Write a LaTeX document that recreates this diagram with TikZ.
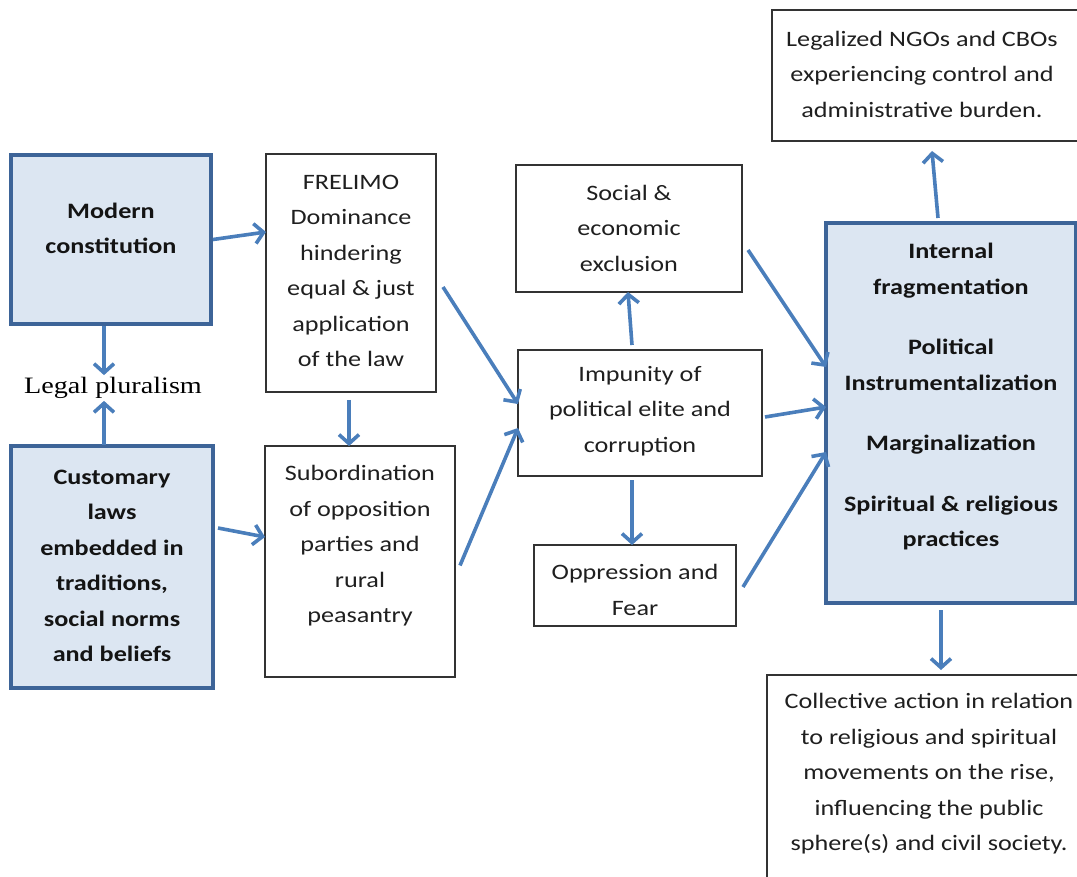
\documentclass[tikz,border=0pt]{standalone}
\usepackage{fontspec}
\setmainfont{Carlito}[FakeStretch=1.19]
\newfontfamily\lpfont{Liberation Serif}[FakeStretch=1.2]
\usetikzlibrary{arrows.meta}
\definecolor{arrowblue}{HTML}{4A7EBB}
\definecolor{boxblue}{HTML}{DCE6F2}
\definecolor{boxedge}{HTML}{3D6498}
\begin{document}
\begin{tikzpicture}[x=1pt,y=-1pt,
  plainbox/.style={draw=black!80, line width=1.5pt, rectangle, anchor=north west,
    inner sep=0pt, outer sep=0pt},
  bluebox/.style={draw=boxedge, fill=boxblue, line width=3.5pt, rectangle, anchor=north west,
    inner sep=0pt, outer sep=0pt},
  txt/.style={align=center, font=\fontsize{22}{35.5}\selectfont, text=black!88, inner sep=0pt},
  btxt/.style={align=center, font=\fontsize{22}{35.5}\selectfont\bfseries, text=black!92, inner sep=0pt},
  flow/.style={draw=arrowblue, line width=3.6pt, -{Straight Barb[length=9pt,width=20pt]}},
]
\useasboundingbox (0,0) rectangle (1077,877);
\clip (0,0) rectangle (1077,877);

% boxes
\node[bluebox, minimum width=200pt, minimum height=169pt] (mc) at (11,155) {};
\node[bluebox, minimum width=202pt, minimum height=242pt] (cl) at (11,446) {};
\node[plainbox, minimum width=170pt, minimum height=238pt] (fr) at (266,154) {};
\node[plainbox, minimum width=190pt, minimum height=231pt] (sub) at (265,446) {};
\node[plainbox, minimum width=226pt, minimum height=127pt] (soc) at (516,165) {};
\node[plainbox, minimum width=244pt, minimum height=126pt] (imp) at (518,350) {};
\node[plainbox, minimum width=202pt, minimum height=81pt] (opp) at (534,545) {};
\node[bluebox, minimum width=250pt, minimum height=380pt] (rb) at (826,223) {};
\node[plainbox, minimum width=310pt, minimum height=131pt] (ngo) at (772,10) {};
\node[plainbox, minimum width=320pt, minimum height=220pt] (col) at (767,675) {};

% texts
\node[btxt] (mct) at (111,228.5) {Modern\\constitution};
\node[btxt] (clt) at (112,566) {Customary\\laws\\embedded in\\traditions,\\social norms\\and beliefs};
\node[txt] (frt) at (351,271) {FRELIMO\\Dominance\\hindering\\equal \& just\\application\\of the law};
\node[txt] (subt) at (360,546) {Subordination\\of opposition\\parties and\\rural\\peasantry};
\node[txt] (soct) at (629,228) {Social \&\\economic\\exclusion};
\node[txt] (impt) at (640,411) {Impunity of\\political elite and\\corruption};
\node[txt] (oppt) at (635,590) {Oppression and\\Fear};
\node[btxt] (rbt) at (951,397) {Internal\\fragmentation\\[25pt]Political\\Instrumentalization\\[25pt]Marginalization\\[25pt]Spiritual \& religious\\practices};
\node[txt] (ngot) at (922,74) {Legalized NGOs and CBOs\\experiencing control and\\administrative burden.};
\node[txt] (colt) at (929,774) {Collective action in relation\\to religious and spiritual\\movements on the rise,\\influencing the public\\sphere(s) and civil society.};
\node[font=\lpfont\fontsize{23.5}{28}\selectfont, inner sep=2pt] (lp) at (113,388) {Legal pluralism};

% connectors
\draw[flow] ([xshift=2pt]mc.east) -- ([yshift=41pt]fr.west);
\draw[flow] ([shift={(-7pt,-2pt)}]mc.south) -- ([xshift=-9pt]lp.north);
\draw[flow] ([shift={(-8pt,1pt)}]cl.north) -- ([xshift=-9pt]lp.south);
\draw[flow] ([shift={(5pt,39pt)}]cl.east) -- ([yshift=24.5pt]sub.west);
\draw[flow] ([shift={(-2pt,-8pt)}]fr.south) -- ([xshift=-11pt]sub.north);
\draw[flow] ([shift={(7pt,-14pt)}]fr.east) -- ([yshift=9pt]imp.west);
\draw[flow] ([shift={(5pt,-4pt)}]sub.east) -- ([yshift=-15pt]imp.west);
\draw[flow] ([shift={(-8pt,5pt)}]imp.north) -- ([xshift=-1pt]soc.south);
\draw[flow] ([shift={(-8pt,-4pt)}]imp.south) -- ([xshift=-3pt]opp.north);
\draw[flow] ([shift={(6pt,-21.5pt)}]soc.east) -- ([yshift=46pt]rb.west);
\draw[flow] ([shift={(3pt,-4pt)}]imp.east) -- ([yshift=6pt]rb.west);
\draw[flow] ([shift={(7pt,-1.5pt)}]opp.east) -- ([yshift=-39pt]rb.west);
\draw[flow] ([shift={(-13pt,5pt)}]rb.north) -- ([shift={(5pt,-10pt)}]ngo.south);
\draw[flow] ([shift={(-10pt,-7pt)}]rb.south) -- ([shift={(14pt,5pt)}]col.north);
\end{tikzpicture}
\end{document}
